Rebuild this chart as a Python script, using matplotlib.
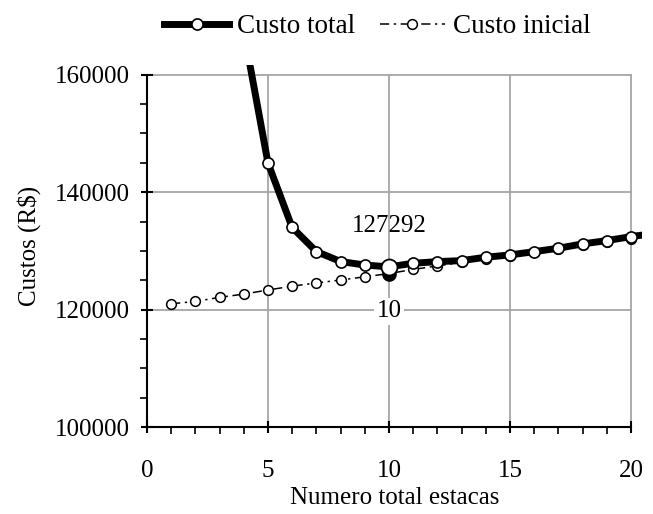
# custo total vs custo inicial por numero de estacas
import matplotlib.pyplot as plt
from matplotlib.ticker import MultipleLocator

plt.rcParams.update({"font.family": "Liberation Serif", "font.size": 18})

n_estacas = [4, 5, 6, 7, 8, 9, 10, 11, 12, 13, 14, 15, 16, 17, 18, 19, 20, 21]
custo_total = [167400, 145000, 134000, 129900, 128200, 127600, 127292, 127900,
               128180, 128350, 128930, 129320, 129880, 130460, 131200, 131760,
               132440, 133000]
n_inicial = [1, 2, 3, 4, 5, 6, 7, 8, 9, 10, 11, 12, 13, 14, 15, 16, 17, 18, 19, 20]
custo_inicial = [121000, 121400, 122100, 122650, 123350, 124000, 124550, 125050,
                 125600, 126150, 126850, 127450, 128050, 128650, 129200, 129750,
                 130350, 130950, 131500, 132100]
n_otimo = 10
custo_otimo = 127292
custo_inicial_otimo = 126000

fig = plt.figure(figsize=(6.53, 5.14), dpi=100)
ax = fig.add_axes([0.225, 0.169, 0.758, 0.705])

# grade so ate 20 / 160000
for xv in [5, 10, 15, 20]:
    ax.plot([xv, xv], [100000, 160000], color="#a6a6a6", lw=1.3, zorder=1)
for yv in [120000, 140000, 160000]:
    ax.plot([0, 20], [yv, yv], color="#a6a6a6", lw=1.3, zorder=1)

ax.plot(n_inicial, custo_inicial, color="black", lw=1.1, dashes=[6, 3, 1.5, 3],
        marker="o", ms=7, mfc="white", mec="black", mew=1.1, zorder=3,
        label="Custo inicial")
ax.plot(n_estacas, custo_total, color="black", lw=5, marker="o", ms=8,
        mfc="white", mec="black", mew=1.2, zorder=4, label="Custo total")

ax.plot([n_otimo], [custo_inicial_otimo], "o", color="black", ms=9.5, zorder=5)
ax.plot([n_otimo], [custo_otimo], "o", mfc="white", mec="black", mew=1.3,
        ms=11.5, zorder=6)

ax.text(n_otimo, 134300, "127292", ha="center", va="center", fontsize=18)
ax.text(n_otimo, 119700, "10", ha="center", va="center", fontsize=18,
        bbox=dict(facecolor="white", edgecolor="none", pad=2), zorder=2)

ax.set_xlim(0, 20.45)
ax.set_ylim(100000, 161700)
ax.set_xticks([0, 5, 10, 15, 20])
ax.set_yticks([100000, 120000, 140000, 160000])
ax.xaxis.set_minor_locator(MultipleLocator(1))
ax.yaxis.set_minor_locator(MultipleLocator(5000))
ax.tick_params(which="major", direction="inout", length=9, width=1.5, pad=19)
ax.tick_params(axis="y", which="major", pad=8)
ax.tick_params(which="minor", direction="out", length=5, width=1.2)
ax.set_xticks([x for x in range(0, 21)], minor=True)

for s in ["top", "right"]:
    ax.spines[s].set_visible(False)
ax.spines["left"].set_linewidth(1.5)
ax.spines["bottom"].set_linewidth(1.5)
ax.spines["left"].set_bounds(100000, 160000)
ax.spines["bottom"].set_bounds(0, 20)

ax.set_xlabel("Numero total estacas", labelpad=4)
ax.set_ylabel("Custos (R\\$)", labelpad=10)

handles, labels = ax.get_legend_handles_labels()
fig.legend(handles[::-1], labels[::-1], loc="upper center", ncol=2,
           bbox_to_anchor=(0.578, 1.02), frameon=False, handlelength=2.4,
           handletextpad=0.3, columnspacing=0.9, fontsize=19.5)

fig.savefig("out.png")
